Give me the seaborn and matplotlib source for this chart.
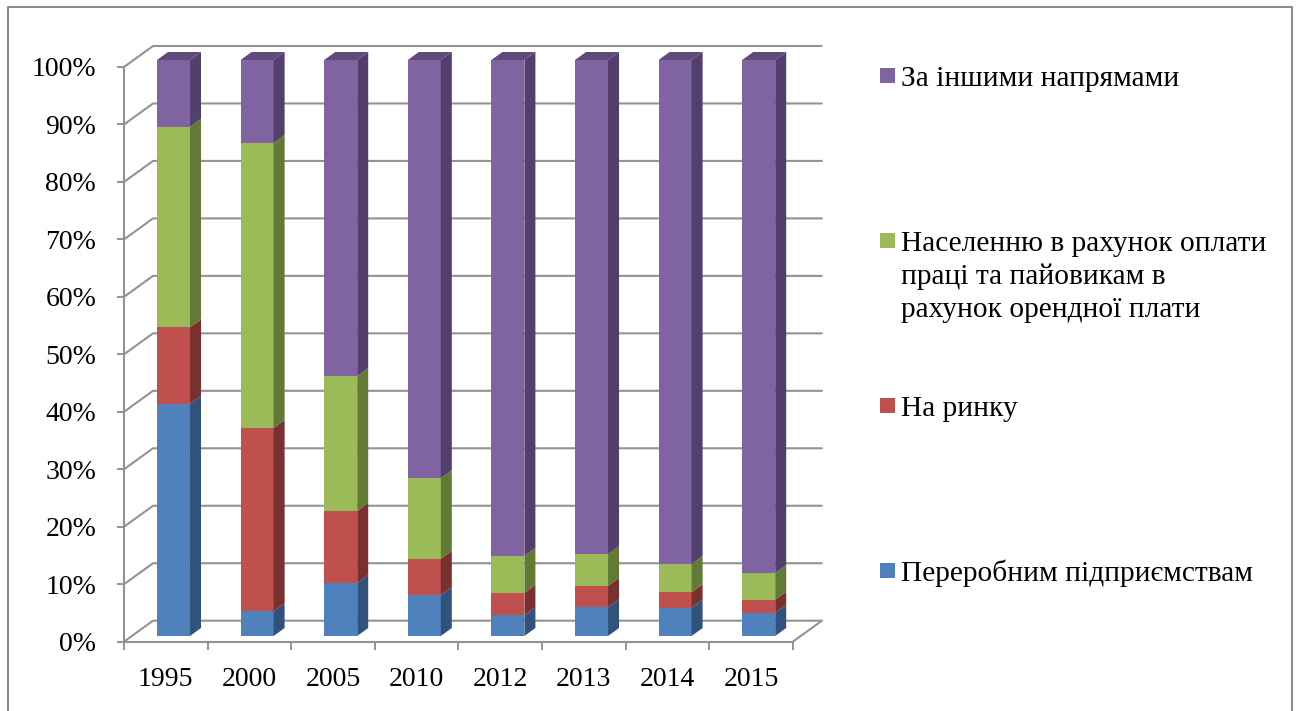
# plot.py
import matplotlib
matplotlib.use('Agg')
import matplotlib.pyplot as plt
from matplotlib.patches import Polygon, Rectangle
import numpy as np
import pandas as pd
import seaborn as sns

years = ['1995', '2000', '2005', '2010', '2012', '2013', '2014', '2015']
pererobni = [40.3, 4.3, 9.2, 7.1, 3.6, 5.0, 4.9, 4.0]
rynok = [13.3, 31.8, 12.5, 6.3, 3.9, 3.7, 2.7, 2.3]
naselennia = [34.8, 49.5, 23.4, 14.0, 6.4, 5.5, 4.9, 4.6]
inshi = [11.6, 14.4, 54.9, 72.6, 86.1, 85.8, 87.5, 89.1]

names = [
    'Переробним підприємствам',
    'На ринку',
    'Населенню в рахунок оплати\nпраці та пайовикам в\nрахунок орендної плати',
    'За іншими напрямами',
]
face_colors = ['#4f81bd', '#c0504d', '#9bbb59', '#8064a2']
side_colors = ['#31527a', '#7a302e', '#637a37', '#533f6d']
top_color = '#604a7b'
line_color = '#939393'
pct_ticks = list(range(0, 101, 10))

W, H = 1297, 711
CAT = 83.6  # pixels per category

sns.set_style('white')
plt.rcParams['font.family'] = ['Liberation Serif', 'DejaVu Serif']

df = pd.DataFrame({
    'year': years * 4,
    'value': pererobni + rynok + naselennia + inshi,
    'series': np.repeat(names, len(years)),
})

fig = plt.figure(figsize=(W / 100, H / 100), dpi=100)


def px_axes(left, top, width, height):
    return fig.add_axes([left / W, 1 - (top + height) / H, width / W, height / H])


# front plane of the box carries the real axis, bars stand a bit deeper
ax_front = px_axes(124, 67, 8 * CAT, 574.7)
ax = px_axes(131.7, 60, 8 * CAT, 576)
ax.patch.set_visible(False)
ax_front.set_facecolor('white')
ax_front.set_zorder(1)
ax.set_zorder(2)

bottoms = np.zeros(len(years))
for name, face in zip(names, face_colors):
    part = df[df['series'] == name]
    sns.barplot(data=part, x='year', y='value', order=years, color=face,
                saturation=1, width=0.395, bottom=bottoms, errorbar=None,
                linewidth=0, ax=ax)
    bottoms = bottoms + part['value'].to_numpy()

ax.set_xlim(-0.5, 7.5)
ax.set_ylim(0, 100)
ax.axis('off')

# side and top faces follow from the drawn bars
dx, dy = 11 / CAT, 8 / 5.76
n_years = len(years)
for i, bar in enumerate(list(ax.patches)):
    x1 = bar.get_x() + bar.get_width()
    y0, y1 = bar.get_y(), bar.get_y() + bar.get_height()
    side = side_colors[i // n_years]
    ax.add_patch(Polygon([(x1, y0), (x1 + dx, y0 + dy), (x1 + dx, y1 + dy), (x1, y1)],
                         facecolor=side, edgecolor='none', clip_on=False))
    if i // n_years == len(names) - 1:
        x0 = bar.get_x()
        ax.add_patch(Polygon([(x0, y1), (x0 + dx, y1 + dy), (x1 + dx, y1 + dy), (x1, y1)],
                             facecolor=top_color, edgecolor='none', clip_on=False))

# axis on the front plane
ax_front.set_xlim(-0.5, 7.5)
ax_front.set_ylim(0, 100)
ax_front.set_yticks(pct_ticks)
ax_front.set_yticklabels([f'{v}%' for v in pct_ticks], va='center_baseline')
ax_front.set_xticks(np.arange(-0.5, 8, 1))
ax_front.set_xticklabels([])
ax_front.set_xticks(np.arange(8), labels=years, minor=True)
ax_front.tick_params(axis='y', which='major', length=5, width=1.4, color=line_color,
                     labelsize=20, pad=15, left=True, labelcolor='black')
ax_front.tick_params(axis='x', which='major', length=5.5, width=1.4, color=line_color, bottom=True)
ax_front.tick_params(axis='x', which='minor', length=0, labelsize=20, pad=18.5, labelcolor='black')
for key in ['top', 'right']:
    ax_front.spines[key].set_visible(False)
for key in ['left', 'bottom']:
    ax_front.spines[key].set_color(line_color)
    ax_front.spines[key].set_linewidth(1.5)

# walls of the box
wall_dx, wall_dy = 29 / CAT, 21 / 5.747
for v in pct_ticks:
    ax_front.plot([-0.5, -0.5 + wall_dx, 7.5 + wall_dx], [v, v + wall_dy, v + wall_dy],
                  color=line_color, lw=1.5, clip_on=False, zorder=1)
ax_front.plot([7.5, 7.5 + wall_dx], [0, wall_dy], color=line_color, lw=1.5, clip_on=False, zorder=1)

# legend: marker centre and first text baseline, placed by hand
legend_marker_y = [570, 405.5, 240.5, 75.5]
legend_text_y = [581, 416, 251, 86]
for name, face, my, ty in zip(names, face_colors, legend_marker_y, legend_text_y):
    fig.add_artist(Rectangle((880 / W, 1 - (my + 7.5) / H), 15 / W, 15 / H,
                             transform=fig.transFigure, facecolor=face, edgecolor='none'))
    # matplotlib puts a multiline baseline on the last line, so lines go one by one
    for k, line in enumerate(name.split('\n')):
        fig.text(901 / W, 1 - (ty + k * 33) / H, line, fontsize=21.2, va='baseline',
                 ha='left', color='black')

# outer frame, open at the bottom
fig.add_artist(plt.Line2D([8 / W, 8 / W, 1292 / W, 1292 / W], [0, 1 - 7 / H, 1 - 7 / H, 0],
                          transform=fig.transFigure, color='#8c8c8c', lw=1.5))

fig.savefig('out.png', dpi=100)
plt.close(fig)
